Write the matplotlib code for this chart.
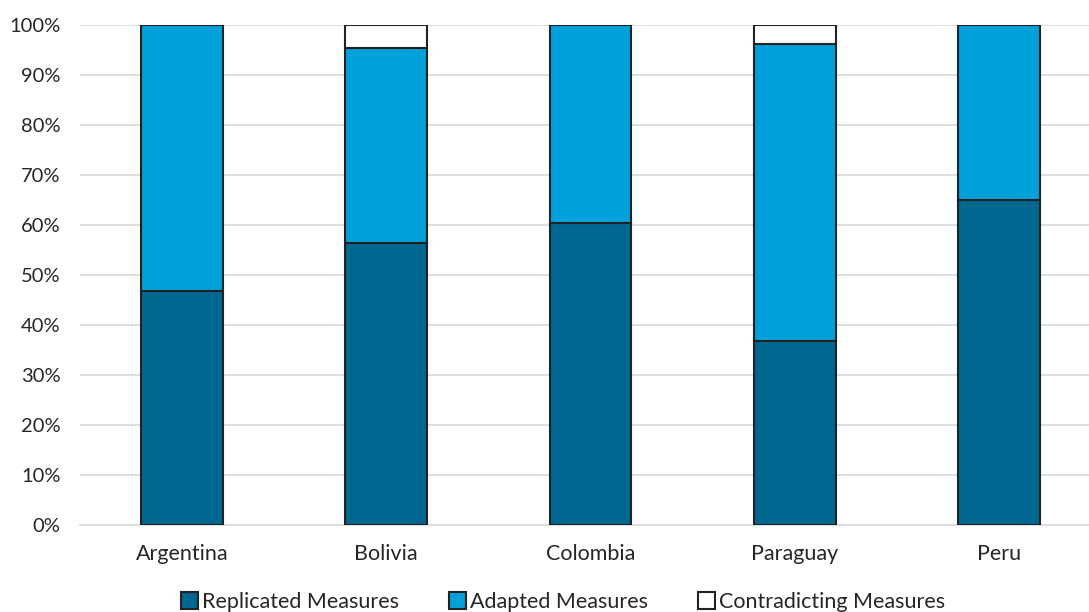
import matplotlib
matplotlib.use("Agg")
import matplotlib.pyplot as plt
from matplotlib.patches import Patch
import numpy as np

countries = ["Argentina", "Bolivia", "Colombia", "Paraguay", "Peru"]
replicated = [46.9, 56.4, 60.4, 36.9, 65.1]
adapted = [53.1, 39.1, 39.6, 59.3, 34.9]
contradicting = [0.0, 4.5, 0.0, 3.8, 0.0]

series_names = ["Replicated Measures", "Adapted Measures", "Contradicting Measures"]
colors = ["#006890", "#00A0DA", "#FFFFFF"]
edge = "#222222"

plt.rcParams["font.family"] = ["Lato", "DejaVu Sans"]

fig = plt.figure(figsize=(10.89, 6.12), dpi=100)
ax = fig.add_axes([80 / 1089, 1 - 525 / 612, 1021 / 1089, 500 / 612])

x = np.arange(len(countries))
w = 0.4
bottom = np.zeros(len(countries))
for vals, col in zip([replicated, adapted, contradicting], colors):
    vals = np.array(vals)
    ax.bar(x, vals, w, bottom=bottom, color=col, edgecolor=edge, linewidth=1.5, zorder=3)
    bottom += vals

ax.set_xlim(-0.5, len(countries) - 0.5)
ax.set_ylim(0, 100)
ax.set_yticks(np.arange(0, 101, 10))
ax.set_yticklabels([f"{v}%" for v in range(0, 101, 10)])
ax.set_xticks(x)
ax.set_xticklabels(countries)
ax.tick_params(axis="both", length=0, colors="#262626")
ax.tick_params(axis="y", labelsize=14.5, pad=14)
ax.tick_params(axis="x", labelsize=15.5, pad=14)
ax.grid(axis="y", color="#d9d9d9", linewidth=1.2, zorder=0)
for s in ["top", "right", "left"]:
    ax.spines[s].set_visible(False)
ax.spines["bottom"].set_color("#d9d9d9")
ax.spines["bottom"].set_linewidth(1.2)
ax.spines["bottom"].set_zorder(1)

handles = [Patch(facecolor=c, edgecolor=edge, linewidth=1.5) for c in colors]
fig.legend(handles, series_names, loc="center", bbox_to_anchor=(563 / 1089, 1 - 602 / 612),
           ncol=3, frameon=False, fontsize=15.5, handlelength=0.8, handleheight=0.8,
           handletextpad=0.2, columnspacing=2.3, labelcolor="#262626")

fig.savefig("out.png", dpi=100)
